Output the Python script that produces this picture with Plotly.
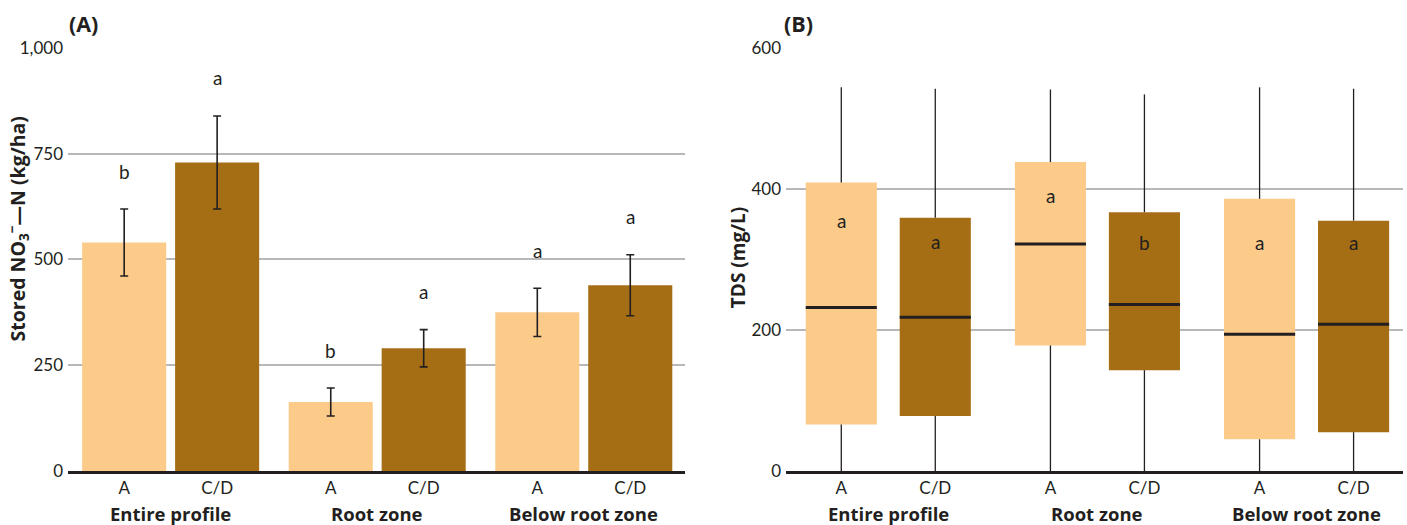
import plotly.graph_objects as go

# ---------------- data ----------------
groups = ["Entire profile", "Root zone", "Below root zone"]
series = ["A", "C/D"]

# Panel A: stored NO3-N (kg/ha), mean and error
stored_A = [540, 163, 375]
stored_CD = [729, 290, 439]
err_A = [79, 33, 57]
err_CD = [110, 44, 72]
letters_stored_A = ["b", "b", "a"]
letters_stored_CD = ["a", "a", "a"]

# Panel B: TDS (mg/L) box statistics
tds_A_low = [0, 0, 0]
tds_A_q1 = [66, 178, 45]
tds_A_med = [232, 322, 194]
tds_A_q3 = [409, 438, 386]
tds_A_high = [544, 541, 544]
tds_CD_low = [0, 0, 0]
tds_CD_q1 = [78, 143, 55]
tds_CD_med = [218, 236, 208]
tds_CD_q3 = [359, 367, 355]
tds_CD_high = [542, 534, 542]
letters_tds_A = ["a", "a", "a"]
letters_tds_CD = ["a", "b", "a"]
letters_tds_A_y = [355, 390, 324]
letters_tds_CD_y = [325, 324, 324]

# ticks
yticks_A = [0, 250, 500, 750, 1000]
yticks_B = [0, 200, 400, 600]

# ---------------- style ----------------
FONT = "Lato"
BFONT = "Open Sans"
TXT = "#231f20"
C_LIGHT = "#FCCB8A"
C_DARK = "#A56E14"
GRID = "#b8b8b8"
W, H = 1407, 525
OFF_A, BW_A = 0.225, 0.407
OFF_B, BW_B = 0.2247, 0.34

fig = go.Figure()

gi = list(range(len(groups)))

# ---- Panel A bars ----
for vals, errs, col, sgn, name in [(stored_A, err_A, C_LIGHT, -1, "A"),
                                   (stored_CD, err_CD, C_DARK, 1, "C/D")]:
    fig.add_trace(go.Bar(
        x=[g + sgn * OFF_A for g in gi], y=vals, width=BW_A,
        marker=dict(color=col, line=dict(width=0)),
        error_y=dict(type="data", array=errs, color=TXT, thickness=1.6, width=4),
        xaxis="x", yaxis="y", showlegend=False, name=name))

# ---- Panel B boxes (floating bars + whiskers + medians) ----
for q1, med, q3, lo, hi, col, sgn, name in [
        (tds_A_q1, tds_A_med, tds_A_q3, tds_A_low, tds_A_high, C_LIGHT, -1, "A"),
        (tds_CD_q1, tds_CD_med, tds_CD_q3, tds_CD_low, tds_CD_high, C_DARK, 1, "C/D")]:
    xs = [g + sgn * OFF_B for g in gi]
    fig.add_trace(go.Bar(
        x=xs, y=[b - a for a, b in zip(q1, q3)], base=q1, width=BW_B,
        marker=dict(color=col, line=dict(width=0)),
        xaxis="x2", yaxis="y2", showlegend=False, name=name))
    wx, wy = [], []
    for x, a, b, l, h in zip(xs, q1, q3, lo, hi):
        wx += [x, x, None, x, x, None]
        wy += [l, a, None, b, h, None]
    fig.add_trace(go.Scatter(x=wx, y=wy, mode="lines",
                             line=dict(color=TXT, width=1.3),
                             xaxis="x2", yaxis="y2", showlegend=False, hoverinfo="skip"))
    mx, my = [], []
    for x, m in zip(xs, med):
        mx += [x - BW_B / 2, x + BW_B / 2, None]
        my += [m, m, None]
    fig.add_trace(go.Scatter(x=mx, y=my, mode="lines",
                             line=dict(color=TXT, width=3),
                             xaxis="x2", yaxis="y2", showlegend=False, hoverinfo="skip"))

annotations = []
# letters panel A
for vals, errs, lets, sgn in [(stored_A, err_A, letters_stored_A, -1),
                              (stored_CD, err_CD, letters_stored_CD, 1)]:
    for g, v, e, t in zip(gi, vals, errs, lets):
        annotations.append(dict(x=g + sgn * OFF_A, y=v + e, xref="x", yref="y",
                                text=t, showarrow=False, yshift=38, yanchor="middle",
                                font=dict(family=FONT, size=19, color=TXT)))
# letters panel B
for lets, ys, sgn in [(letters_tds_A, letters_tds_A_y, -1),
                      (letters_tds_CD, letters_tds_CD_y, 1)]:
    for g, t, yv in zip(gi, lets, ys):
        annotations.append(dict(x=g + sgn * OFF_B, y=yv, xref="x2", yref="y2",
                                text=t, showarrow=False, yanchor="middle",
                                font=dict(family=FONT, size=19, color=TXT)))
# group labels
for xr in ["x", "x2"]:
    for g, name in zip(gi, groups):
        annotations.append(dict(x=g, y=-0.1014, xref=xr, yref="paper",
                                text="<b>%s</b>" % name, showarrow=False,
                                yanchor="middle",
                                font=dict(family=BFONT, size=18.5, color=TXT)))
# axis titles
annotations.append(dict(x=17.5 / W, y=0.5708, xref="paper", yref="paper",
                        text="<b>Stored NO<sub>3</sub><sup>−</sup>—N (kg/ha)</b>",
                        textangle=-90, showarrow=False, xanchor="center", yanchor="middle",
                        font=dict(family=BFONT, size=19.5, color=TXT)))
annotations.append(dict(x=738 / W, y=0.502, xref="paper", yref="paper",
                        text="<b>TDS (mg/L)</b>",
                        textangle=-90, showarrow=False, xanchor="center", yanchor="middle",
                        font=dict(family=BFONT, size=19, color=TXT)))
# panel labels
annotations.append(dict(x=67 / W, y=1.0554, xref="paper", yref="paper", text="<b>(A)</b>",
                        showarrow=False, xanchor="left", yanchor="middle",
                        font=dict(family=BFONT, size=21.5, color=TXT)))
annotations.append(dict(x=782 / W, y=1.0566, xref="paper", yref="paper", text="<b>(B)</b>",
                        showarrow=False, xanchor="left", yanchor="middle",
                        font=dict(family=BFONT, size=21.5, color=TXT)))

tickfont = dict(family=FONT, size=17, color=TXT)
xcommon = dict(showgrid=False, zeroline=False, showline=True, linecolor=TXT, linewidth=3,
               ticks="", tickfont=dict(family=FONT, size=17, color=TXT),
               ticklabelstandoff=0, fixedrange=True)
ycommon = dict(showgrid=True, gridcolor=GRID, gridwidth=1.5, zeroline=False, showline=False,
               ticks="", tickfont=tickfont, ticklabelstandoff=4, fixedrange=True)

tickvals_x = [g + s * OFF_A for g in gi for s in (-1, 1)]
tickvals_x2 = [g + s * OFF_B for g in gi for s in (-1, 1)]
ticktext_x = [s for _ in gi for s in series]

fig.update_layout(
    width=W, height=H,
    margin=dict(l=0, r=0, t=47, b=54),
    paper_bgcolor="white", plot_bgcolor="white",
    barmode="overlay",
    font=dict(family=FONT, color=TXT),
    xaxis=dict(domain=[68 / W, 685 / W], range=[-0.497, 2.49],
               tickvals=tickvals_x, ticktext=ticktext_x, anchor="y", **xcommon),
    yaxis=dict(range=[0, 1002], tickvals=yticks_A,
               ticktext=["{:,}".format(v) for v in yticks_A], anchor="x", **ycommon),
    xaxis2=dict(domain=[786 / W, 1403 / W], range=[-0.489, 2.461],
                tickvals=tickvals_x2, ticktext=ticktext_x, anchor="y2", **xcommon),
    yaxis2=dict(range=[0, 601.2], tickvals=yticks_B,
                ticktext=[str(v) for v in yticks_B], anchor="x2", **ycommon),
    annotations=annotations,
)

fig.write_html("out.html", config={"displayModeBar": False},
               post_script="document.body.style.margin='0';document.body.style.overflow='hidden';")
